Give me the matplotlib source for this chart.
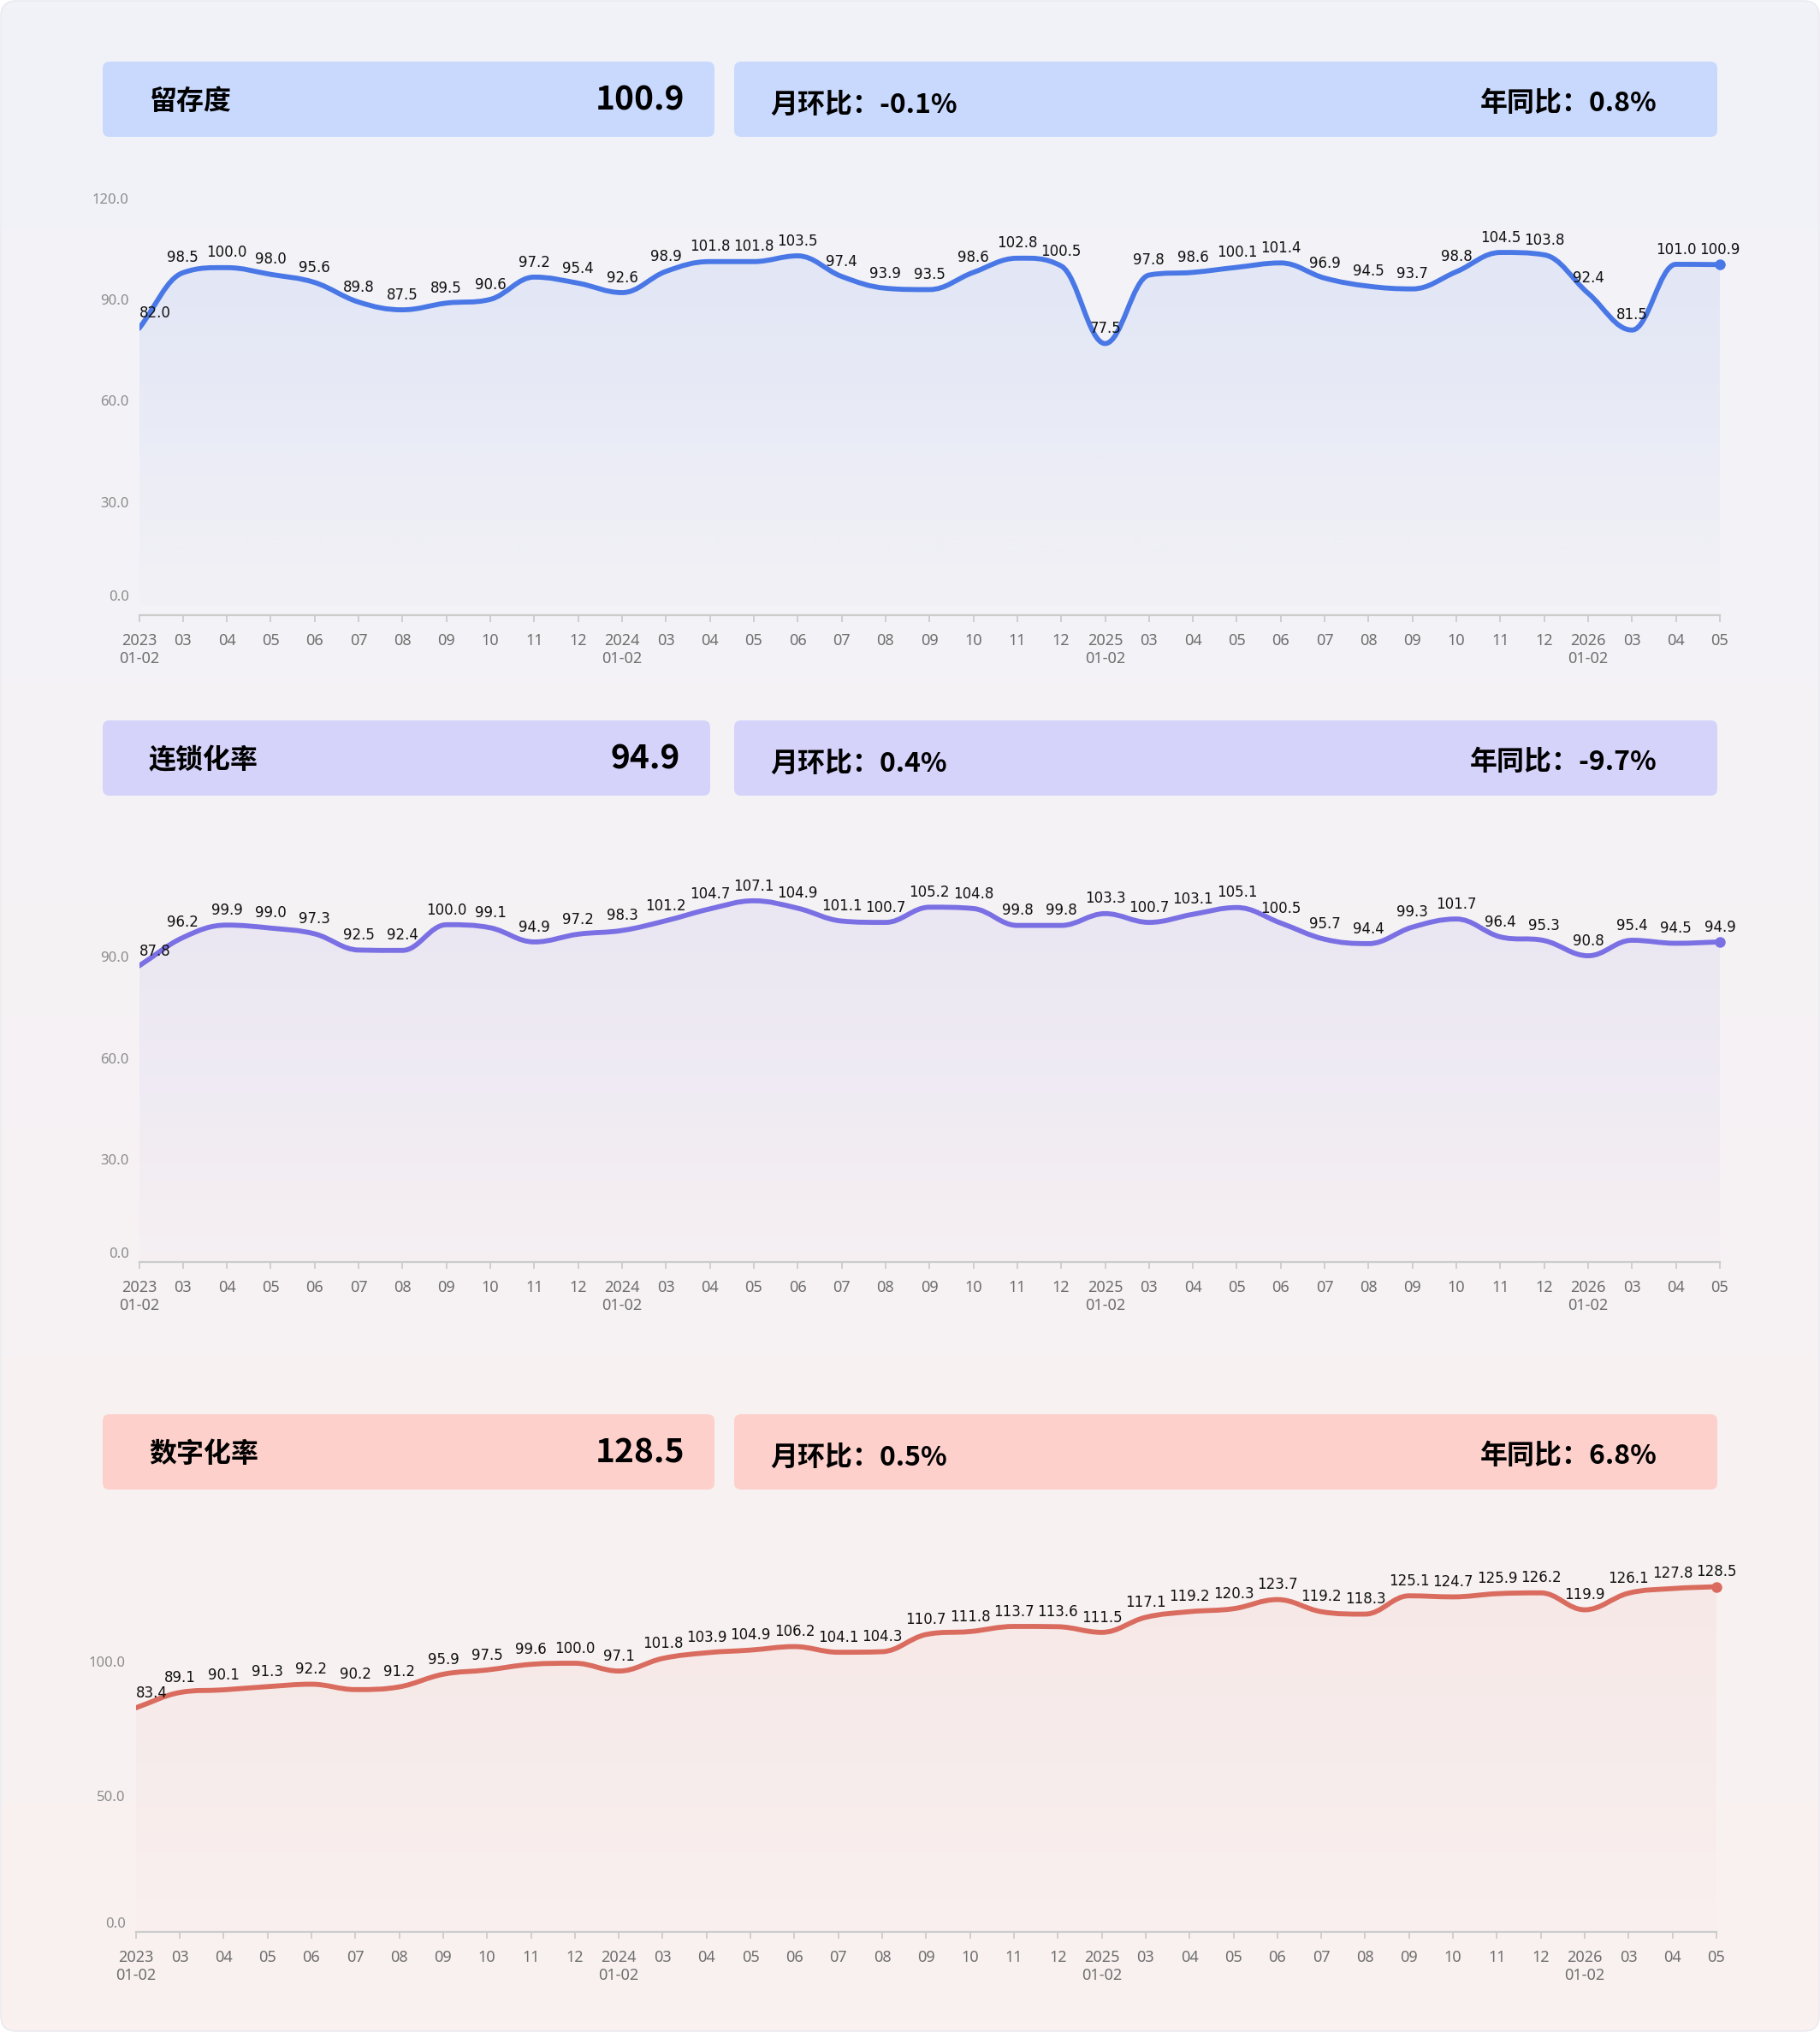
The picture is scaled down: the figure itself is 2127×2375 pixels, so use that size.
import numpy as np
import matplotlib
matplotlib.use("Agg")
import matplotlib.pyplot as plt
from matplotlib.path import Path
from matplotlib.patches import PathPatch, FancyBboxPatch
from matplotlib.colors import to_rgb

# ---- data ----
x_labels = ["2023\n01-02", "03", "04", "05", "06", "07", "08", "09", "10", "11", "12",
            "2024\n01-02", "03", "04", "05", "06", "07", "08", "09", "10", "11", "12",
            "2025\n01-02", "03", "04", "05", "06", "07", "08", "09", "10", "11", "12",
            "2026\n01-02", "03", "04", "05"]

retention = [82.0, 98.5, 100.0, 98.0, 95.6, 89.8, 87.5, 89.5, 90.6, 97.2, 95.4,
             92.6, 98.9, 101.8, 101.8, 103.5, 97.4, 93.9, 93.5, 98.6, 102.8, 100.5,
             77.5, 97.8, 98.6, 100.1, 101.4, 96.9, 94.5, 93.7, 98.8, 104.5, 103.8,
             92.4, 81.5, 101.0, 100.9]
chain_rate = [87.8, 96.2, 99.9, 99.0, 97.3, 92.5, 92.4, 100.0, 99.1, 94.9, 97.2,
              98.3, 101.2, 104.7, 107.1, 104.9, 101.1, 100.7, 105.2, 104.8, 99.8, 99.8,
              103.3, 100.7, 103.1, 105.1, 100.5, 95.7, 94.4, 99.3, 101.7, 96.4, 95.3,
              90.8, 95.4, 94.5, 94.9]
digital_rate = [83.4, 89.1, 90.1, 91.3, 92.2, 90.2, 91.2, 95.9, 97.5, 99.6, 100.0,
                97.1, 101.8, 103.9, 104.9, 106.2, 104.1, 104.3, 110.7, 111.8, 113.7, 113.6,
                111.5, 117.1, 119.2, 120.3, 123.7, 119.2, 118.3, 125.1, 124.7, 125.9, 126.2,
                119.9, 126.1, 127.8, 128.5]

titles = ["留存度", "连锁化率", "数字化率"]
mom = ["-0.1%", "0.4%", "0.5%"]
yoy = ["0.8%", "-9.7%", "6.8%"]

W, H = 2127, 2375
fig = plt.figure(figsize=(W / 100, H / 100), dpi=100)
fig.patch.set_facecolor("white")

# background card with vertical gradient
bg = fig.add_axes([0, 0, 1, 1], zorder=-10)
bg.set_xlim(0, W)
bg.set_ylim(H, 0)
bg.axis("off")
top_c = np.array(to_rgb("#f1f3f9"))
bot_c = np.array(to_rgb("#faf1f0"))
t = np.linspace(0, 1, 256)[:, None]
grad = (top_c[None, :] * (1 - t) + bot_c[None, :] * t)[:, None, :]
card = FancyBboxPatch((1, 1), W - 2, H - 2, boxstyle="round,pad=0,rounding_size=18",
                      facecolor="none", edgecolor="#e8e8ee", lw=1)
bg.add_patch(card)
im = bg.imshow(grad, extent=[0, W, H, 0], aspect="auto", zorder=0)
im.set_clip_path(card)

cjk = ["Noto Sans CJK SC", "DejaVu Sans"]


def header(y0, y1, x1_end, color, title, value, m, yy):
    b1 = FancyBboxPatch((120, y0), x1_end - 120, y1 - y0, boxstyle="round,pad=0,rounding_size=8",
                        facecolor=color, edgecolor="none", zorder=2)
    b2 = FancyBboxPatch((858, y0), 2007 - 858, y1 - y0, boxstyle="round,pad=0,rounding_size=8",
                        facecolor=color, edgecolor="none", zorder=2)
    bg.add_patch(b1)
    bg.add_patch(b2)
    yc = (y0 + y1) / 2 + 3
    bg.text(174, yc, title, family=cjk, fontsize=23, weight="bold", va="center", ha="left", zorder=3)
    bg.text(x1_end - 35, yc - 2, value, family=cjk, fontsize=28, weight="bold",
            va="center", ha="right", zorder=3)
    bg.text(900, yc + 4, "月环比：" + m, family=cjk, fontsize=23, weight="bold", va="center", ha="left", zorder=3)
    bg.text(1937, yc + 2, "年同比：" + yy, family=cjk, fontsize=23, weight="bold", va="center", ha="right", zorder=3)


header(72, 160, 835, "#c9d9fd", titles[0], f"{retention[-1]:.1f}", mom[0], yoy[0])
header(842, 930, 830, "#d6d3fb", titles[1], f"{chain_rate[-1]:.1f}", mom[1], yoy[1])
header(1653, 1741, 835, "#fdd0cb", titles[2], f"{digital_rate[-1]:.1f}", mom[2], yoy[2])


def smooth_path(x, y, s=0.38):
    n = len(x)
    d = np.diff(y)
    m = np.zeros(n)
    for i in range(n):
        if i == 0:
            m[i] = d[0]
        elif i == n - 1:
            m[i] = d[-1]
        elif d[i - 1] * d[i] <= 0:
            m[i] = 0
        else:
            m[i] = (d[i - 1] + d[i]) / 2
            lim = 3 * min(abs(d[i - 1]), abs(d[i]))
            m[i] = np.sign(m[i]) * min(abs(m[i]), lim)
    verts = [(x[0], y[0])]
    codes = [Path.MOVETO]
    for i in range(n - 1):
        verts += [(x[i] + s, y[i] + s * m[i]), (x[i + 1] - s, y[i + 1] - s * m[i + 1]), (x[i + 1], y[i + 1])]
        codes += [Path.CURVE4] * 3
    return verts, codes


def draw_chart(rect_px, values, color, ylim, yticks, fill_alpha):
    left, right, top, bottom = rect_px
    ax = fig.add_axes([left / W, 1 - bottom / H, (right - left) / W, (bottom - top) / H])
    ax.set_facecolor("none")
    x = np.arange(len(values))
    y = np.array(values)
    verts, codes = smooth_path(x, y)

    # gradient area
    base = 0
    area_v = verts + [(x[-1], base), (x[0], base), (x[0], y[0])]
    area_c = codes + [Path.LINETO, Path.LINETO, Path.CLOSEPOLY]
    area = PathPatch(Path(area_v, area_c), facecolor="none", edgecolor="none")
    ax.add_patch(area)
    rgb = np.array(to_rgb(color))
    tt = np.linspace(0, 1, 256)
    rgba = np.zeros((256, 1, 4))
    rgba[:, 0, :3] = rgb
    rgba[:, 0, 3] = 0.01 + fill_alpha * tt
    gim = ax.imshow(rgba, extent=[x[0], x[-1], base, y.max()], origin="lower",
                    aspect="auto", zorder=1, interpolation="bilinear")
    gim.set_clip_path(area)

    ax.add_patch(PathPatch(Path(verts, codes), facecolor="none", edgecolor=color,
                           lw=4.2, capstyle="round", joinstyle="round", zorder=3))
    ax.plot(x[-1], y[-1], "o", color=color, ms=8, zorder=4, clip_on=False)

    for i, v in enumerate(values):
        ax.annotate(f"{v:.1f}", (i, v), xytext=(0, 6), textcoords="offset points",
                    ha="left" if i == 0 else "center", va="bottom", fontsize=12,
                    family=["Liberation Sans Narrow", "DejaVu Sans"], color="#111111",
                    zorder=5, annotation_clip=False)

    ax.set_xlim(x[0], x[-1])
    ax.set_ylim(*ylim)
    ax.set_xticks(x, labels=x_labels)
    ax.tick_params(axis="x", length=6, width=1.3, color="#cccccc", pad=9,
                   labelsize=13, labelcolor="#6e6e6e", labelfontfamily="Noto Sans")
    for lab in ax.get_xticklabels():
        lab.set_linespacing(1.15)
    ax.set_yticks(yticks)
    ax.set_yticklabels([])
    ax.tick_params(axis="y", length=0)
    for sp in ["top", "right", "left"]:
        ax.spines[sp].set_visible(False)
    ax.spines["bottom"].set_color("#cccccc")
    ax.spines["bottom"].set_linewidth(1.6)
    ax.spines["bottom"].set_position(("axes", 0))

    for tv in yticks:
        off = 9 if tv == 0 else 0
        ax.annotate(f"{tv:.1f}", (0, tv), xycoords=ax.get_yaxis_transform(),
                    xytext=(-12 * 0.72, off * 0.72), textcoords="offset points",
                    ha="right", va="center", fontsize=12, color="#8c8c8c",
                    family="Noto Sans", annotation_clip=False)
    return ax


draw_chart((162.5, 2010, 234, 719), retention, "#4977e6", (-3.05, 120), [0, 30, 60, 90, 120], 0.09)
draw_chart((162.5, 2010, 1002, 1475), chain_rate, "#7a70e3", (0, 120), [0, 30, 60, 90], 0.08)
draw_chart((158.7, 2006, 1787, 2258), digital_rate, "#d96c5e", (0, 150), [0, 50, 100], 0.06)

fig.savefig("out.png", dpi=100, facecolor=fig.get_facecolor())
